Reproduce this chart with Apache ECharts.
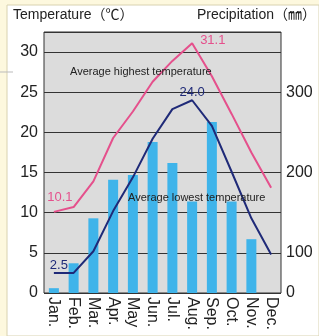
<!DOCTYPE html>
<html>
<head>
<meta charset="utf-8">
<script src="https://cdn.jsdelivr.net/npm/echarts@6/dist/echarts.min.js"></script>
<style>
  html, body { margin: 0; padding: 0; background: #fdf8de; }
  #main { width: 319px; height: 336px; }
</style>
</head>
<body>
<div id="main"></div>
<script>
// 月份
var months = ['Jan.', 'Feb.', 'Mar.', 'Apr.', 'May', 'Jun.', 'Jul.', 'Aug.', 'Sep.', 'Oct.', 'Nov.', 'Dec.'];
// 平均最高气温 / 最低气温 (℃)
var highTemp = [10.1, 10.7, 13.9, 19.3, 22.6, 26.3, 28.9, 31.1, 27.0, 22.3, 17.5, 13.1];
var lowTemp = [2.5, 2.5, 5.2, 10.2, 14.4, 19.2, 22.9, 24.0, 20.8, 15.1, 9.3, 4.8];
// 降水量 (mm)
var precip = [12, 74, 143, 191, 197, 238, 212, 164, 263, 164, 117, 0];
// 右轴刻度: 0-100 段被压缩
var precipTicks = [0, 100, 200, 300];

// 0~100mm 这一段画成一半高
function toAxis(p) {
  return p < 100 ? 50 + p / 2 : p;
}

var pink = '#e5508c';
var navy = '#1f2a78';

var chart = echarts.init(document.getElementById('main'), null, { renderer: 'canvas' });

var highData = highTemp.map(function (v, i) {
  if (i === 0) return { value: v, label: { show: true, position: 'top', distance: 4, offset: [6, -4] } };
  if (i === 7) return { value: v, label: { show: true, position: 'right', distance: 8, offset: [0, -3] } };
  return v;
});
var lowData = lowTemp.map(function (v, i) {
  if (i === 0) return { value: v, label: { show: true, position: 'top', distance: 1, offset: [5, 0] } };
  if (i === 7) return { value: v, label: { show: true, position: 'top', distance: 1 } };
  return v;
});

function oneDecimal(p) {
  return p.value.toFixed(1);
}

chart.setOption({
  backgroundColor: '#fdf8de',
  animation: false,
  textStyle: { fontFamily: 'Liberation Sans, Arial, sans-serif' },
  grid: {
    left: 44, right: 38, top: 32, bottom: 43,
    show: true,
    backgroundColor: '#dcdcdc',
    borderColor: '#333',
    borderWidth: 1
  },
  graphic: [
    { type: 'rect', z: -10, shape: { x: 7, y: 5, width: 312, height: 331 },
      style: { fill: '#ffffff', stroke: '#d8d2b0', lineWidth: 1 } },
    { type: 'line', z: -5, shape: { x1: 0, y1: 72, x2: 13, y2: 72 }, style: { stroke: '#bbb', lineWidth: 1 } },
    { type: 'text', left: 13, top: 8, z: 10,
      style: { text: 'Temperature（℃）', fontSize: 14, fill: '#222', fontFamily: 'Liberation Sans, Noto Sans CJK SC, sans-serif' } },
    { type: 'text', right: 3, top: 8, z: 10,
      style: { text: 'Precipitation（㎜）', fontSize: 14, fill: '#222', fontFamily: 'Liberation Sans, Noto Sans CJK SC, sans-serif' } },
    { type: 'text', left: 70, top: 66, z: 10,
      style: { text: 'Average highest temperature', fontSize: 11, fill: '#222' } },
    { type: 'text', left: 128, top: 192, z: 10,
      style: { text: 'Average lowest temperature', fontSize: 11, fill: '#222' } }
  ],
  xAxis: {
    type: 'category',
    data: months,
    boundaryGap: true,
    axisLine: { show: false },
    axisTick: { show: false },
    axisLabel: { rotate: -90, interval: 0, fontSize: 16, color: '#222', margin: 4 }
  },
  yAxis: [
    {
      type: 'value',
      min: 0, max: 32.5, interval: 5,
      axisLine: { show: false },
      axisTick: { show: false },
      splitLine: { lineStyle: { color: '#333', width: 1 } },
      axisLabel: {
        fontSize: 16, color: '#222', margin: 6,
        formatter: function (v) { return v > 30 ? '' : v; }
      }
    },
    {
      type: 'value',
      min: 50, max: 375, interval: 50,
      position: 'right',
      axisLine: { show: false },
      axisTick: { show: false },
      splitLine: { show: false },
      axisLabel: {
        fontSize: 16, color: '#222', margin: 5,
        formatter: function (v) {
          if (v === 50) return String(precipTicks[0]);
          return precipTicks.indexOf(v) >= 0 ? String(v) : '';
        }
      }
    }
  ],
  series: [
    {
      name: 'precip',
      type: 'bar',
      yAxisIndex: 1,
      barWidth: 10,
      itemStyle: { color: '#3fb4ea' },
      data: precip.map(toAxis),
      z: 2
    },
    {
      name: 'high',
      type: 'line',
      data: highData,
      symbol: 'circle',
      symbolSize: 0,
      showSymbol: true,
      lineStyle: { color: pink, width: 2 },
      itemStyle: { color: pink },
      label: { color: pink, fontSize: 13, formatter: oneDecimal },
      z: 3
    },
    {
      name: 'low',
      type: 'line',
      data: lowData,
      symbol: 'circle',
      symbolSize: 0,
      showSymbol: true,
      lineStyle: { color: navy, width: 2 },
      itemStyle: { color: navy },
      label: { color: navy, fontSize: 13, formatter: oneDecimal },
      z: 4
    }
  ]
});
</script>
</body>
</html>
